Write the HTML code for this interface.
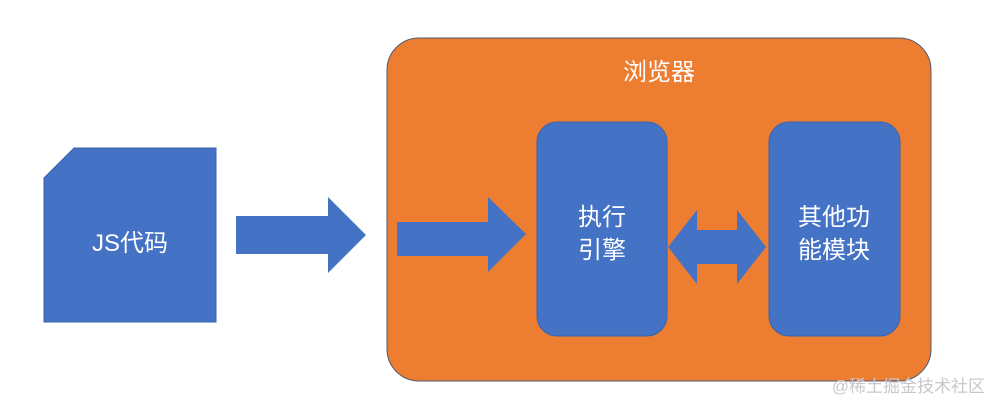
<!DOCTYPE html>
<html><head><meta charset="utf-8"><style>
body{margin:0;width:999px;height:412px;background:#fff;overflow:hidden}
svg text{font-family:"Liberation Sans","Noto Sans CJK SC",sans-serif;fill:#fff}
</style></head><body>
<svg width="999" height="412" xmlns="http://www.w3.org/2000/svg">
<polygon points="74,148 216,148 216,322 44,322 44,178" fill="#4472c4" stroke="#3a63ad" stroke-width="1"/>
<text x="130" y="251" font-size="24" text-anchor="middle">JS代码</text>
<polygon points="236,216 328,216 328,197 366,235 328,273 328,254 236,254" fill="#4472c4"/>
<rect x="387" y="38" width="544" height="343" rx="32" fill="#ed7d31" stroke="#4f5b73" stroke-width="1"/>
<text x="659" y="80" font-size="24" text-anchor="middle">浏览器</text>
<polygon points="397,222 488,222 488,197 526,234 488,272 488,256 397,256" fill="#4472c4"/>
<rect x="537" y="122" width="130" height="214" rx="20" fill="#4472c4" stroke="#3a63ad"/>
<text x="602" y="225" font-size="24" text-anchor="middle">执行</text>
<text x="602" y="258" font-size="24" text-anchor="middle">引擎</text>
<polygon points="668,247 697,210 697,230 737,230 737,210 766,247 737,284 737,264 697,264 697,284" fill="#4472c4"/>
<rect x="769" y="122" width="131" height="214" rx="20" fill="#4472c4" stroke="#3a63ad"/>
<text x="834" y="225" font-size="24" text-anchor="middle">其他功</text>
<text x="834" y="258" font-size="24" text-anchor="middle">能模块</text>
<text x="985" y="392" font-size="17" text-anchor="end" style="fill:#c8c8cc">@稀土掘金技术社区</text>
</svg>
</body></html>
